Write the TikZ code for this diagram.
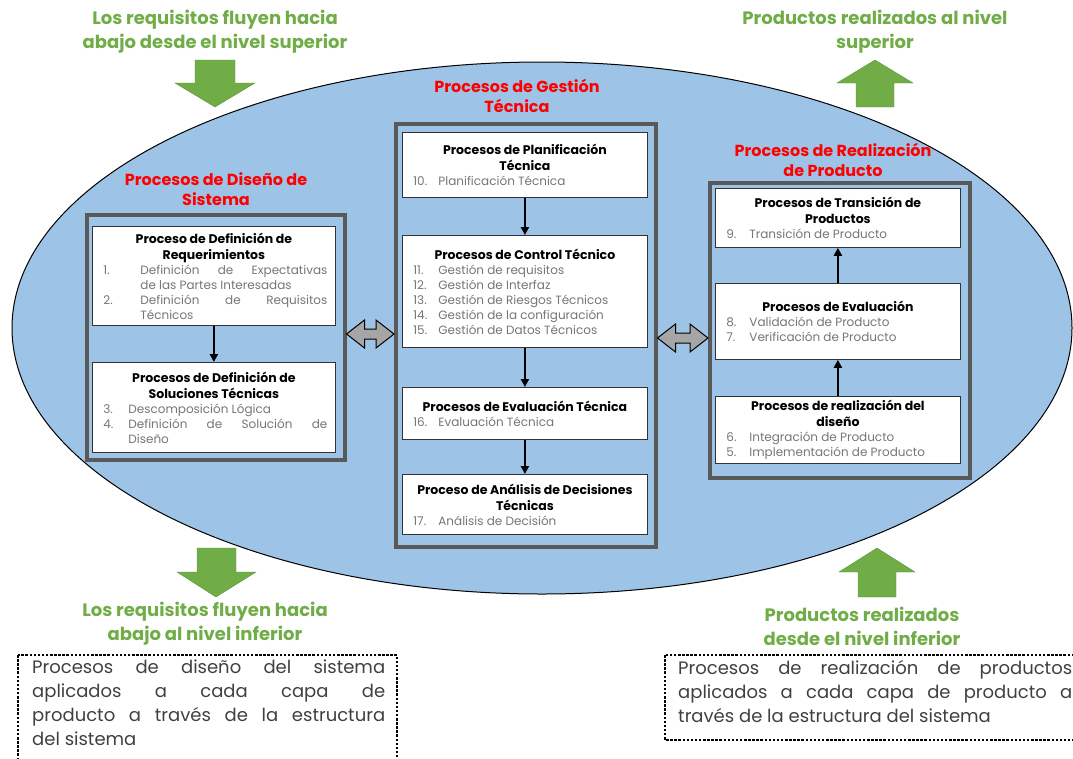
\documentclass[tikz,border=0pt]{standalone}
\usepackage{fontspec}
\setmainfont{Poppins}
\usetikzlibrary{calc,arrows.meta}

\definecolor{skyfill}{HTML}{9DC3E6}
\definecolor{leafgreen}{HTML}{70AD47}
\definecolor{framegray}{HTML}{595959}
\definecolor{itemgray}{HTML}{767676}
\definecolor{notegray}{HTML}{404040}
\definecolor{dblgray}{HTML}{A6A6A6}

% box contents
\newcommand\btitle[1]{{\centering\color{black}\bfseries\fontsize{12.5}{16}\selectfont #1\par}}
\newcommand\itm[3]{{\par\hangindent=#1\hangafter=1\noindent\makebox[#1][l]{\hspace*{3pt}#2}#3\par}}

% block double arrow between two points
\newcommand\dblarrow[2]{%
  \draw[dblarr] let \p1=(#1), \p2=(#2) in
    (\x1,\y1) -- (\x1+18pt,\y1+14pt) -- (\x1+18pt,\y1+5pt) -- (\x2-18pt,\y1+5pt)
    -- (\x2-18pt,\y1+14pt) -- (\x2,\y1) -- (\x2-18pt,\y1-14pt) -- (\x2-18pt,\y1-5pt)
    -- (\x1+18pt,\y1-5pt) -- (\x1+18pt,\y1-14pt) -- cycle;}

\tikzset{
  cbox/.style={draw=framegray, line width=3.5pt, anchor=north west, inner sep=0pt},
  wbox/.style={draw=black!80, fill=white, line width=0.8pt, anchor=north west,
    inner xsep=8pt, inner ysep=2pt, text width=229pt, align=justify,
    text=itemgray, font=\fontsize{12}{15}\selectfont},
  flow/.style={-{Triangle[width=8pt,length=8pt]}, line width=2pt},
  redtitle/.style={text=red, font=\bfseries\fontsize{16}{20}\selectfont, align=center},
  greentitle/.style={text=leafgreen, font=\bfseries\fontsize{18}{24}\selectfont, align=center},
  blockarr/.style={fill=leafgreen, draw=leafgreen!85!black, line width=0.4pt},
  dblarr/.style={fill=dblgray, draw=black, line width=1pt},
  notebox/.style={draw=black, dash pattern=on 2.5pt off 1.6pt, line width=2.8pt},
  notetext/.style={anchor=north west, inner sep=0pt, align=justify,
    text=notegray, font=\fontsize{18}{24}\selectfont}
}

\begin{document}
\begin{tikzpicture}[x=1pt, y=-1pt]
    \useasboundingbox (0,0) rectangle (1073,758);
    \clip (0,0) rectangle (1073,758);

    % Ellipse
    \draw[fill=skyfill, line width=1pt] (542,328) ellipse [x radius=530pt, y radius=266pt];

    % Green flow arrows
    \draw[blockarr] (195,60) -- (235,60) -- (235,83) -- (255,83) -- (215,107) -- (175,83) -- (195,83) -- cycle;
    \draw[blockarr] (856,107) -- (894,107) -- (894,83) -- (913,83) -- (875,60) -- (837,83) -- (856,83) -- cycle;
    \draw[blockarr] (197,548) -- (236,548) -- (236,572) -- (256,572) -- (216,597) -- (177,572) -- (197,572) -- cycle;
    \draw[blockarr] (858,597) -- (896,597) -- (896,572) -- (915,572) -- (877,548) -- (839,572) -- (858,572) -- cycle;

    % Green labels
    \node[greentitle] (toplft) at (215,32) {Los requisitos fluyen hacia\\abajo desde el nivel superior};
    \node[greentitle] (toprgt) at (875,32) {Productos realizados al nivel\\superior};
    \node[greentitle] (botlft) at (205,624) {Los requisitos fluyen hacia\\abajo al nivel inferior};
    \node[greentitle] (botrgt) at (862,626) {Productos realizados\\desde el nivel inferior};

    % Red group titles
    \node[redtitle] (gsttitle) at (517,96) {Procesos de Gestión\\Técnica};
    \node[redtitle] (dsntitle) at (216,189) {Procesos de Diseño de\\Sistema};
    \node[redtitle] (rlztitle) at (833,160) {Procesos de Realización\\de Producto};

    % Group frames
    \node[cbox, minimum width=258pt, minimum height=245pt] (dsn) at (85,213) {};
    \node[cbox, minimum width=260pt, minimum height=423pt] (gst) at (394,122) {};
    \node[cbox, minimum width=260pt, minimum height=295pt] (rlz) at (708,181) {};

    % System design
    \node[wbox, text width=227pt, minimum height=99pt] (req) at (92,226) {%
      \btitle{Proceso de Definición de\\Requerimientos}
      \itm{40pt}{1.}{Definición de Expectativas\linebreak de las Partes Interesadas}
      \itm{40pt}{2.}{Definición de Requisitos\linebreak Técnicos}};
    \node[wbox, text width=227pt, minimum height=90pt] (sol) at (92,362) {%
      \btitle{Procesos de Definición de\\Soluciones Técnicas}
      \itm{28pt}{3.}{Descomposición Lógica}
      \itm{28pt}{4.}{Definición de Solución de\linebreak Diseño}};

    % Technical management
    \node[wbox, minimum height=65pt] (pln) at (402,132) {%
      \btitle{Procesos de Planificación\\Técnica}
      \itm{28pt}{10.}{Planificación Técnica}};
    \node[wbox, minimum height=112pt] (ctl) at (402,235) {%
      \btitle{Procesos de Control Técnico}
      \itm{28pt}{11.}{Gestión de requisitos}
      \itm{28pt}{12.}{Gestión de Interfaz}
      \itm{28pt}{13.}{Gestión de Riesgos Técnicos}
      \itm{28pt}{14.}{Gestión de la configuración}
      \itm{28pt}{15.}{Gestión de Datos Técnicos}};
    \node[wbox, minimum height=52pt] (evt) at (402,387) {%
      \btitle{Procesos de Evaluación Técnica}
      \itm{28pt}{16.}{Evaluación Técnica}};
    \node[wbox, minimum height=60pt] (adt) at (402,474) {%
      \btitle{Proceso de Análisis de Decisiones\\Técnicas}
      \itm{28pt}{17.}{Análisis de Decisión}};

    % Product realization
    \node[wbox, minimum height=59pt] (trn) at (715,188) {%
      \btitle{Procesos de Transición de\\Productos}
      \itm{26pt}{9.}{Transición de Producto}};
    \node[wbox, minimum height=76pt] (evl) at (715,283) {%
      \btitle{Procesos de Evaluación}
      \itm{26pt}{8.}{Validación de Producto}
      \itm{26pt}{7.}{Verificación de Producto}};
    \node[wbox, minimum height=67pt] (rld) at (715,396) {%
      \btitle{Procesos de realización del\\diseño}
      \itm{26pt}{6.}{Integración de Producto}
      \itm{26pt}{5.}{Implementación de Producto}};

    % Flow inside the groups
    \draw[flow] (req) -- (sol);
    \draw[flow] (pln) -- (ctl);
    \draw[flow] (ctl) -- (evt);
    \draw[flow] (evt) -- (adt);
    \draw[flow] (rld) -- (evl);
    \draw[flow] (evl) -- (trn);

    % Exchange between the groups
    \coordinate (gapL) at (0,334);
    \coordinate (gapR) at (0,338);
    \dblarrow{dsn.east |- gapL}{gst.west |- gapL}
    \dblarrow{gst.east |- gapR}{rlz.west |- gapR}

    % Notes
    \draw[notebox] (18,655) rectangle (397,775);
    \node[notetext, text width=353pt] (notelft) at (32,660) {Procesos de diseño del sistema\linebreak
      aplicados a cada capa de\linebreak producto a través de la estructura\linebreak del sistema};
    \draw[notebox] (665,655) rectangle (1090,740);
    \node[notetext, text width=394pt] (notergt) at (678,660) {Procesos de realización de productos\linebreak
      aplicados a cada capa de producto a\linebreak través de la estructura del sistema};
\end{tikzpicture}
\end{document}
